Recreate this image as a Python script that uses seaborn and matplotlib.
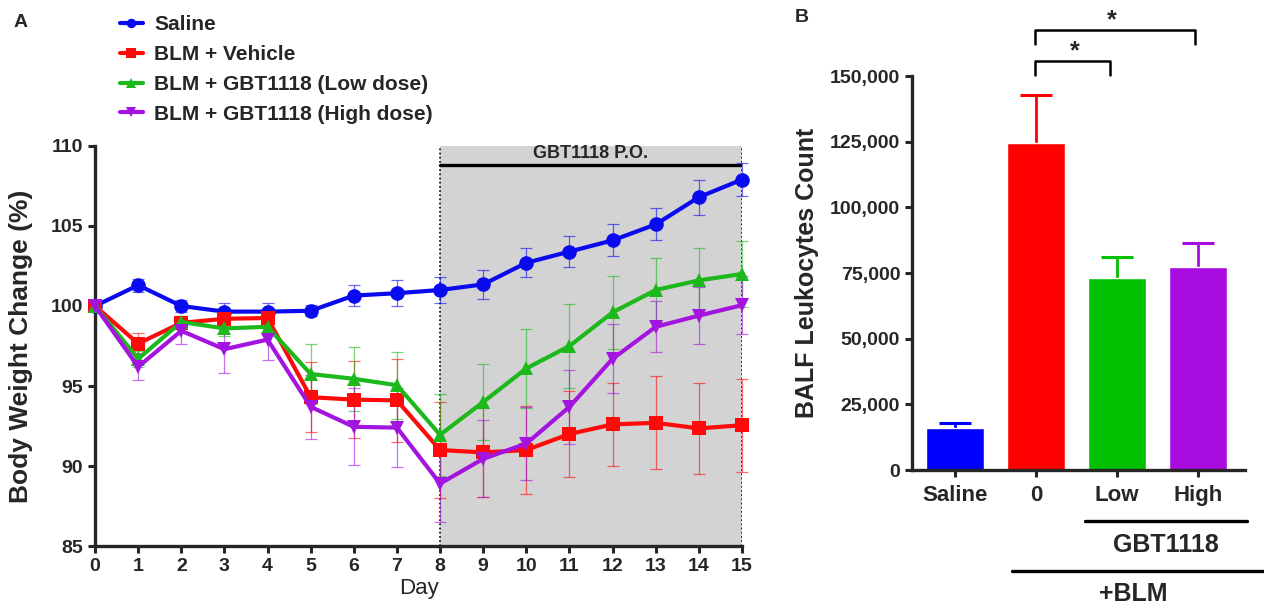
import numpy as np
import pandas as pd
import matplotlib
matplotlib.use('Agg')
import matplotlib.pyplot as plt
import seaborn as sns
from matplotlib.ticker import FuncFormatter

# Panel A data: body weight change (%) by day, mean and SEM
days = list(range(16))
saline = [100, 101.3, 100.0, 99.65, 99.65, 99.7, 100.65, 100.8, 101.0, 101.35, 102.7, 103.4, 104.1, 105.1, 106.8, 107.9]
saline_err = [0.3, 0.4, 0.4, 0.55, 0.55, 0.35, 0.65, 0.8, 0.8, 0.9, 0.9, 0.95, 1.0, 1.0, 1.1, 1.05]
vehicle = [100, 97.65, 98.95, 99.2, 99.25, 94.3, 94.15, 94.1, 91.0, 90.85, 91.0, 92.0, 92.6, 92.7, 92.35, 92.55]
vehicle_err = [0.3, 0.65, 0.4, 0.5, 0.55, 2.2, 2.4, 2.6, 3.0, 2.8, 2.75, 2.7, 2.6, 2.9, 2.85, 2.9]
low_dose = [100, 96.7, 99.0, 98.6, 98.7, 95.75, 95.45, 95.05, 91.95, 94.0, 96.1, 97.5, 99.6, 101.0, 101.6, 102.0]
low_dose_err = [0.4, 0.5, 0.4, 0.5, 0.5, 1.9, 2.0, 2.1, 2.55, 2.4, 2.45, 2.6, 2.3, 2.0, 2.0, 2.05]
high_dose = [100, 96.2, 98.45, 97.3, 97.9, 93.7, 92.45, 92.4, 88.9, 90.45, 91.4, 93.7, 96.7, 98.7, 99.4, 100.05]
high_dose_err = [0.3, 0.85, 0.8, 1.5, 1.3, 2.0, 2.4, 2.45, 2.4, 2.4, 2.3, 2.3, 2.15, 1.6, 1.8, 1.8]

groups = ['Saline', 'BLM + Vehicle', 'BLM + GBT1118 (Low dose)', 'BLM + GBT1118 (High dose)']
line_colors = ['#0a0aef', '#ff0a0a', '#1cb81c', '#a314e0']
markers = ['o', 's', '^', 'v']

# Panel B data: BALF leukocyte count, mean and SEM
bar_labels = ['Saline', '0', 'Low', 'High']
bar_values = [16000, 124500, 73000, 77500]
bar_err = [1800, 18500, 8000, 9000]
bar_colors = ['#0000ff', '#ff0000', '#00c000', '#a80ce0']

sns.set_style('ticks')
plt.rcParams['font.family'] = ['Liberation Sans', 'DejaVu Sans']
plt.rcParams['font.weight'] = 'bold'
plt.rcParams['axes.labelweight'] = 'bold'

fig = plt.figure(figsize=(12.64, 6.09), dpi=100)
ax_a = fig.add_axes([0.0752, 0.1034, 0.5118, 0.6569])
ax_b = fig.add_axes([0.7215, 0.228, 0.2635, 0.647])

# ---- Panel A ----
df_a = pd.DataFrame({
    'Day': days * 4,
    'Weight': saline + vehicle + low_dose + high_dose,
    'Err': saline_err + vehicle_err + low_dose_err + high_dose_err,
    'Group': sum([[g] * len(days) for g in groups], []),
})

ax_a.axvspan(8, 15, color='#d3d3d3', zorder=0, lw=0)
ax_a.axvline(8, color='black', ls=(0, (1, 1.5)), lw=1.2, zorder=1)
ax_a.axvline(15, color='black', ls=(0, (1, 1.5)), lw=1.2, zorder=1)
ax_a.plot([8, 15], [108.8, 108.8], color='black', lw=2.4, zorder=2)
ax_a.text(11.5, 109.0, 'GBT1118 P.O.', ha='center', va='bottom', fontsize=13, fontweight='bold')

for g, c in zip(groups, line_colors):
    sub = df_a[df_a['Group'] == g]
    ax_a.errorbar(sub['Day'], sub['Weight'], yerr=sub['Err'], fmt='none',
                  ecolor=c, elinewidth=0.9, capsize=4, capthick=0.9, alpha=0.6,
                  zorder=3, clip_on=False)

sns.lineplot(data=df_a, x='Day', y='Weight', hue='Group', style='Group',
             hue_order=groups, style_order=groups, palette=line_colors,
             markers=markers, dashes=False, lw=3, markersize=10.5,
             markeredgewidth=0, ax=ax_a, zorder=4, clip_on=False)

ax_a.set_xlim(0, 15)
ax_a.set_ylim(85, 110)
ax_a.set_xticks(days)
ax_a.set_yticks([85, 90, 95, 100, 105, 110])
ax_a.set_xlabel('Day', fontsize=16, fontweight='normal', labelpad=2)
ax_a.set_ylabel('Body Weight Change (%)', fontsize=19, fontweight='bold', labelpad=13)
ax_a.tick_params(labelsize=14, width=2.2, length=5)
for lab in ax_a.get_xticklabels() + ax_a.get_yticklabels():
    lab.set_fontweight('bold')
sns.despine(ax=ax_a)
for s in ['left', 'bottom']:
    ax_a.spines[s].set_linewidth(2.4)

handles, labels = ax_a.get_legend_handles_labels()
ax_a.get_legend().remove()
fig.legend(handles, labels, loc='upper left', bbox_to_anchor=(0.0949, 0.975),
           frameon=False, handlelength=1.1, handletextpad=0.55, markerscale=0.65,
           labelspacing=0.52, borderpad=0, borderaxespad=0,
           prop={'weight': 'bold', 'size': 15})

fig.text(0.011, 0.963, 'A', fontsize=14, fontweight='bold', va='center')

# ---- Panel B ----
df_b = pd.DataFrame({'Group': bar_labels, 'Count': bar_values})
sns.barplot(data=df_b, x='Group', y='Count', hue='Group', palette=bar_colors,
            order=bar_labels, hue_order=bar_labels, width=0.72, legend=False,
            saturation=1, ax=ax_b, zorder=2)
for i, (v, e, c) in enumerate(zip(bar_values, bar_err, bar_colors)):
    ax_b.vlines(i, v - 1000, v + e, color=c, lw=2, zorder=1)
    ax_b.hlines(v + e, i - 0.2, i + 0.2, color=c, lw=2.2, zorder=1)

ax_b.set_xlim(-0.53, 3.58)
ax_b.set_ylim(0, 150000)
ax_b.set_yticks(np.arange(0, 150001, 25000))
ax_b.yaxis.set_major_formatter(FuncFormatter(lambda v, p: f'{int(v):,}'))
ax_b.set_xlabel('')
ax_b.set_ylabel('BALF Leukocytes Count', fontsize=18, fontweight='bold', labelpad=8)
ax_b.tick_params(labelsize=14, width=2.2, length=5)
ax_b.tick_params(axis='x', labelsize=16, pad=6)
for lab in ax_b.get_xticklabels() + ax_b.get_yticklabels():
    lab.set_fontweight('bold')
sns.despine(ax=ax_b)
for s in ['left', 'bottom']:
    ax_b.spines[s].set_linewidth(2.4)

# group annotations below the axis
ax_b.plot([1.6, 3.6], [-19400, -19400], color='black', lw=2.4, clip_on=False)
ax_b.text(2.6, -28500, 'GBT1118', ha='center', va='center', fontsize=18, fontweight='bold')
ax_b.plot([0.7, 3.85], [-38400, -38400], color='black', lw=2.4, clip_on=False)
ax_b.text(2.2, -47300, '+BLM', ha='center', va='center', fontsize=18, fontweight='bold')

# significance brackets
ax_b.plot([0.99, 0.99, 1.91, 1.91], [150400, 155700, 155700, 150400], color='black', lw=1.8, clip_on=False)
ax_b.text(1.48, 155000, '*', ha='center', va='bottom', fontsize=18, fontweight='bold')
ax_b.plot([0.99, 0.99, 2.96, 2.96], [162200, 167500, 167500, 162200], color='black', lw=1.8, clip_on=False)
ax_b.text(1.94, 166800, '*', ha='center', va='bottom', fontsize=18, fontweight='bold')

fig.text(0.629, 0.972, 'B', fontsize=14, fontweight='bold', va='center')

fig.savefig('out.png', dpi=100)
